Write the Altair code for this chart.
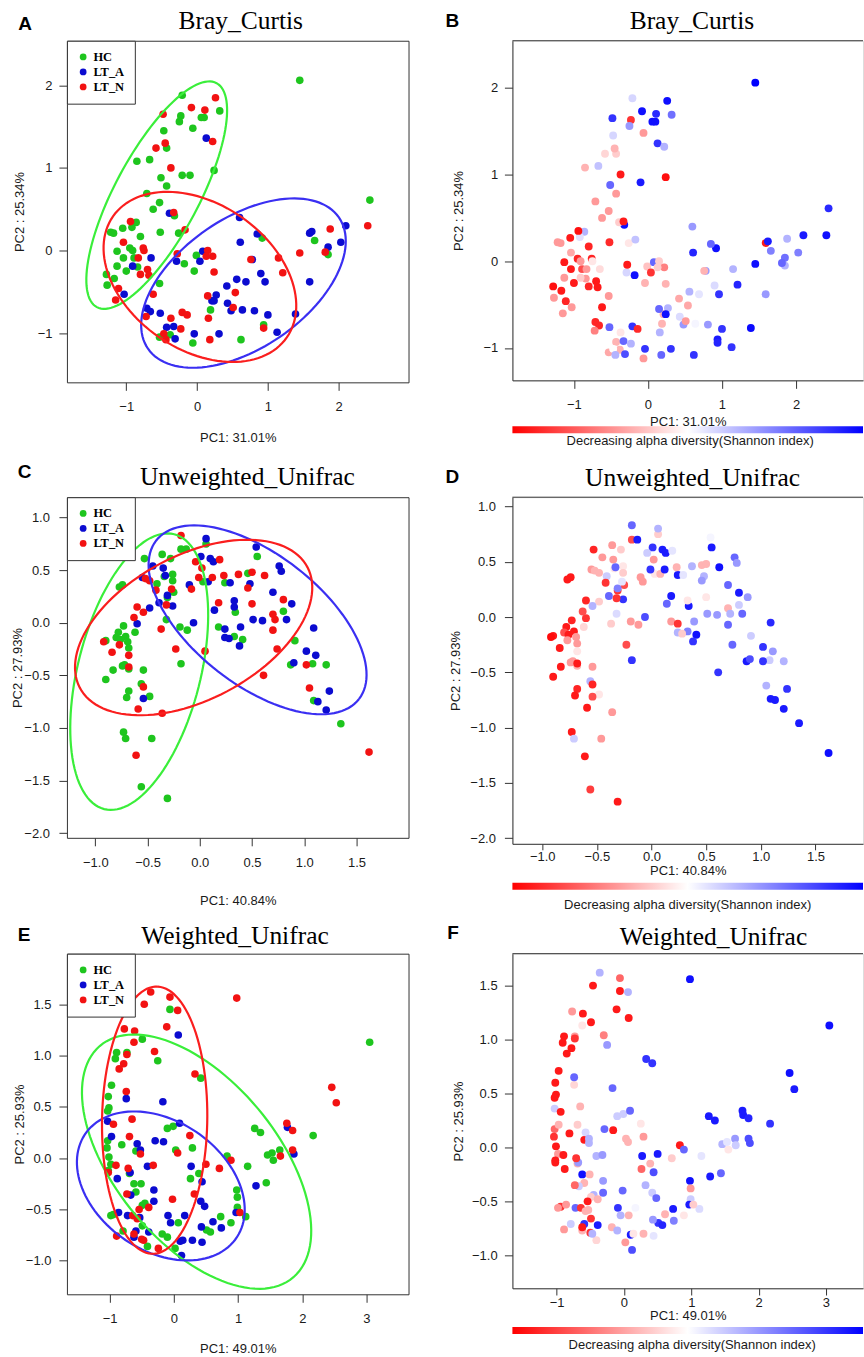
import altair as alt
import numpy as np
import pandas as pd

# ---------------- data (PC1, PC2, relative decrease of Shannon index 0=high .. 1=low) ----------------
bc_hc = [(1.45, 2.06, 1.0), (-0.21, 1.88, 0.58), (-0.23, 1.63, 0.1), (-0.25, 1.56, 0.7), (0.06, 1.61, 0.97),
         (0.10, 1.61, 0.97), (0.32, 1.69, 0.78), (-0.06, 1.48, 0.3), (-0.47, 1.45, 0.58), (-0.43, 1.24, 0.4),
         (-0.85, 1.08, 0.35), (-0.67, 1.10, 0.62), (-0.21, 0.91, 0.5), (-0.10, 0.91, 0.95), (0.24, 0.97, 0.03),
         (-0.51, 0.88, 0.8), (-0.43, 0.78, 0.3), (-0.71, 0.69, 0.3), (-0.53, 0.58, 0.3), (-0.62, 0.50, 0.3),
         (-0.32, 0.42, 0.97), (-0.86, 0.34, 0.65), (-0.92, 0.28, 0.56), (-1.05, 0.27, 0.05), (-0.52, 0.22, 0.08),
         (-0.26, 0.21, 0.45), (-1.22, 0.22, 0.3), (-1.18, 0.21, 0.3), (-0.80, 0.17, 0.07), (-1.13, -0.01, 0.05),
         (-0.95, 0.03, 0.07), (-0.91, 0.0, 0.3), (-1.04, -0.09, 0.05), (-0.89, -0.09, 0.15), (-1.13, -0.19, 0.3),
         (-1.00, -0.25, 0.05), (-0.84, -0.20, 0.3), (-1.28, -0.29, 0.03), (-1.27, -0.42, 0.3), (-1.17, -0.34, 0.05),
         (-0.53, -0.40, 0.3), (-0.01, -0.06, 0.38), (-0.18, -0.16, 0.97), (-0.04, -0.25, 0.35), (0.92, 0.15, 0.97),
         (1.66, 0.12, 0.75), (1.85, -0.05, 0.65), (2.44, 0.61, 0.92), (0.19, -0.72, 0.35), (0.94, -0.90, 0.95),
         (0.62, -1.08, 0.9), (-0.06, -1.12, 0.3), (-0.53, -1.05, 0.33), (-0.38, -1.02, 0.35)]
bc_lta = [(0.13, 1.36, 0.9), (-0.39, 0.45, 0.4), (0.60, 0.40, 0.7), (0.85, 0.20, 0.8), (0.61, 0.10, 0.93),
          (1.59, 0.21, 0.05), (1.62, 0.23, 0.95), (2.10, 0.30, 0.95), (2.03, 0.10, 0.75), (1.85, 0.04, 0.78),
          (-0.65, -0.09, 0.43), (-0.91, -0.19, 0.4), (-0.29, -0.13, 0.58), (0.08, -0.01, 0.8), (0.04, -0.13, 0.1),
          (0.78, -0.11, 0.7), (0.90, -0.28, 0.57), (0.96, -0.38, 0.9), (0.56, -0.35, 0.65), (0.69, -0.38, 0.55),
          (1.59, -0.38, 0.7), (0.42, -0.43, 0.33), (0.27, -0.54, 0.65), (0.21, -0.61, 0.35), (0.24, -0.61, 0.97),
          (0.43, -0.64, 0.57), (0.48, -0.73, 0.7), (0.64, -0.72, 0.52), (0.81, -0.73, 0.7), (1.00, -0.78, 0.9),
          (1.39, -0.77, 0.98), (1.13, -0.99, 0.9), (0.31, -1.01, 0.9), (-0.04, -1.01, 0.9), (-0.71, -0.70, 0.07),
          (-0.66, -0.74, 0.07), (-0.52, -0.76, 0.8), (-1.03, -0.53, 0.3), (-0.43, -0.93, 0.35), (-0.33, -0.92, 0.8),
          (-0.31, -1.07, 0.85)]
bc_ltn = [(0.26, 1.85, 0.97), (-0.08, 1.73, 0.97), (0.11, 1.70, 0.92), (-0.48, 1.65, 0.9), (0.22, 1.32, 0.65),
          (-0.45, 1.30, 0.35), (-0.58, 1.24, 0.42), (-0.37, 1.00, 0.05), (-0.33, 0.46, 0.05), (-0.17, 0.25, 0.62),
          (-0.94, 0.35, 0.03), (-1.04, 0.10, 0.33), (-0.76, 0.03, 0.07), (-0.75, 0.0, 0.45), (-0.83, -0.09, 0.3),
          (-0.70, -0.23, 0.05), (-0.80, -0.29, 0.07), (-0.68, -0.30, 0.05), (-1.11, -0.46, 0.07), (-0.62, -0.53, 0.05),
          (-1.15, -0.60, 0.3), (-0.72, -0.80, 0.25), (-0.37, -0.82, 0.45), (-0.21, -0.75, 0.9), (-0.14, -0.78, 0.08),
          (-0.23, -0.95, 0.65), (-0.47, -1.01, 0.5), (-0.44, -1.08, 0.65), (0.16, -0.82, 0.65), (0.18, -1.08, 0.8),
          (0.15, -0.55, 0.8), (0.54, -0.51, 0.33), (0.51, -0.69, 0.3), (0.24, -0.26, 0.35), (0.15, 0.0, 0.4),
          (0.22, -0.07, 0.25), (0.13, -0.07, 0.4), (0.76, -0.11, 0.35), (1.15, -0.09, 0.65), (1.21, -0.27, 0.93),
          (1.45, -0.03, 0.97), (1.81, -0.02, 0.8), (1.88, 0.26, 0.65), (2.41, 0.30, 0.97), (0.94, -0.94, 0.93),
          (-0.28, -0.04, 0.05)]

uu_hc = [(-0.36, 0.65, 0.3), (-0.53, 0.61, 0.07), (-0.77, 0.34, 0.05), (-0.74, 0.36, 0.05), (-0.28, 0.61, 0.4),
         (-0.26, 0.46, 0.45), (-0.26, 0.40, 0.4), (-0.34, 0.44, 0.45), (-0.41, 0.37, 0.6), (-0.18, 0.70, 0.15),
         (-0.13, 0.70, 0.95), (-0.25, 0.29, 0.15), (-0.31, 0.24, 0.1), (-0.32, 0.03, 0.57), (-0.19, -0.04, 0.3),
         (-0.12, -0.07, 0.3), (-0.18, -0.39, 0.9), (0.03, 0.39, 0.45), (0.06, 0.75, 0.4), (0.24, 0.38, 0.95),
         (0.34, 0.10, 0.95), (0.46, 0.47, 0.35), (0.55, 0.63, 0.95), (0.18, -0.04, 0.3), (0.33, -0.13, 0.75),
         (0.41, -0.16, 0.97), (0.80, 0.11, 0.6), (0.91, -0.17, 0.6), (0.87, -0.40, 0.95), (1.08, -0.39, 0.6),
         (1.21, -0.40, 0.65), (1.09, -0.74, 0.95), (1.35, -0.96, 0.95), (-0.62, -0.09, 0.42), (-0.73, -0.03, 0.07),
         (-0.78, -0.09, 0.05), (-0.80, -0.14, 0.15), (-0.76, -0.16, 0.05), (-0.71, -0.13, 0.05), (-0.69, -0.18, 0.3),
         (-0.68, -0.24, 0.3), (-0.90, -0.17, 0.05), (-0.74, -0.41, 0.3), (-0.72, -0.40, 0.3), (-0.68, -0.44, 0.35),
         (-0.83, -0.45, 0.05), (-0.90, -0.54, 0.05), (-0.54, -0.45, 0.3), (-0.56, -0.58, 0.65), (-0.48, -0.70, 0.45),
         (-0.68, -0.65, 0.07), (-0.70, -0.71, 0.05), (-0.73, -1.04, 0.05), (-0.71, -1.10, 0.6), (-0.46, -1.10, 0.3),
         (-0.56, -1.56, 0.12), (-0.31, -1.67, 0.05)]
uu_lta = [(0.06, 0.80, 0.65), (-0.45, 0.54, 0.3), (-0.35, 0.52, 0.3), (-0.33, 0.45, 0.8), (-0.55, 0.43, 0.3),
          (0.01, 0.63, 0.9), (0.10, 0.61, 0.95), (0.13, 0.58, 0.95), (-0.10, 0.36, 0.3), (0.08, 0.39, 0.35),
          (0.54, 0.72, 0.52), (0.76, 0.54, 0.8), (0.78, 0.49, 0.7), (0.48, 0.37, 0.65), (0.29, 0.38, 0.55),
          (0.33, 0.21, 0.5), (0.33, 0.15, 0.45), (0.14, 0.12, 0.8), (0.70, 0.29, 0.8), (0.88, 0.18, 0.7),
          (0.83, 0.03, 0.8), (0.51, 0.03, 0.7), (0.60, 0.02, 0.7), (0.24, -0.06, 0.1), (0.24, -0.14, 0.65),
          (0.28, -0.15, 0.4), (0.39, -0.04, 0.7), (0.38, -0.22, 0.9), (-0.06, 0.0, 0.85), (-0.31, 0.26, 0.75),
          (-0.26, 0.16, 0.9), (-0.39, 0.19, 0.8), (-0.48, 0.14, 0.4), (-0.60, -0.01, 0.1), (-0.54, -0.72, 0.15),
          (0.90, -0.38, 0.85), (1.02, -0.27, 0.9), (1.09, -0.05, 0.92), (1.11, -0.31, 0.7), (1.13, -0.75, 0.95),
          (1.24, -0.65, 0.9), (1.21, -0.83, 0.95)]
uu_ltn = [(-0.18, 0.83, 0.8), (-0.04, 0.58, 0.6), (0.02, 0.52, 0.3), (0.19, 0.60, 0.55), (0.12, 0.43, 0.95),
          (-0.01, 0.43, 0.9), (-0.08, 0.32, 0.3), (0.23, 0.45, 0.35), (0.37, 0.46, 0.65), (0.46, 0.33, 0.7),
          (0.50, 0.48, 0.35), (0.62, 0.45, 0.97), (0.18, 0.19, 0.95), (0.50, 0.18, 0.45), (0.80, 0.22, 0.95),
          (0.70, 0.08, 0.35), (0.72, 0.03, 0.65), (0.70, -0.07, 0.8), (0.74, -0.25, 0.8), (0.05, -0.27, 0.5),
          (0.61, -0.50, 0.9), (1.02, -0.40, 0.9), (1.05, -0.62, 0.65), (1.62, -1.23, 0.97), (-0.27, 0.32, 0.55),
          (-0.32, 0.17, 0.1), (-0.42, 0.31, 0.1), (-0.52, 0.42, 0.35), (-0.48, 0.40, 0.35), (-0.60, 0.15, 0.07),
          (-0.54, 0.10, 0.65), (-0.63, 0.05, 0.15), (-0.37, -0.06, 0.4), (-0.23, -0.25, 0.15), (-0.92, -0.18, 0.02),
          (-0.84, -0.28, 0.05), (-0.77, -0.21, 0.3), (-0.68, -0.31, 0.45), (-0.68, -0.42, 0.05), (-0.54, -0.61, 0.07),
          (-0.59, -0.82, 0.05), (-0.36, -0.86, 0.3), (-0.61, -1.26, 0.05)]

wu_hc = [(3.05, 1.13, 0.97), (-0.06, 1.45, 0.05), (-0.49, 1.16, 0.05), (-0.73, 1.03, 0.3), (-0.89, 1.03, 0.05),
         (-0.91, 0.97, 0.05), (-0.25, 0.95, 0.7), (0.42, 0.78, 0.9), (-0.97, 0.71, 0.05), (-1.02, 0.60, 0.05),
         (-1.01, 0.49, 0.05), (-1.03, 0.46, 0.05), (-0.10, 0.29, 0.6), (-0.01, 0.31, 0.6), (-1.03, 0.17, 0.2),
         (-1.04, 0.10, 0.1), (-0.81, 0.13, 0.05), (-0.59, 0.07, 0.05), (0.03, 0.08, 0.35), (0.29, 0.10, 0.3),
         (-1.01, 0.01, 0.05), (-0.98, -0.06, 0.3), (-0.69, -0.15, 0.35), (-0.62, -0.25, 0.97), (-0.51, -0.25, 0.35),
         (-0.59, -0.33, 0.35), (-0.45, -0.44, 0.65), (-0.49, -0.46, 0.4), (0.26, -0.20, 0.2), (0.39, -0.15, 0.35),
         (0.83, 0.02, 0.05), (1.15, -0.08, 0.55), (1.26, 0.29, 0.95), (1.35, 0.25, 0.95), (1.46, 0.03, 0.65),
         (1.53, 0.05, 0.55), (1.55, -0.02, 0.45), (1.65, 0.08, 0.7), (2.17, 0.22, 0.9), (1.44, -0.24, 0.8),
         (0.98, -0.31, 0.97), (0.99, -0.38, 0.3), (0.99, -0.48, 0.6), (1.12, -0.57, 0.57), (0.89, -0.63, 0.45),
         (0.73, -0.57, 0.95), (0.51, -0.70, 0.9), (0.57, -0.72, 0.93), (0.07, -0.63, 0.35), (-0.18, -0.74, 0.35),
         (-0.10, -0.77, 0.65), (0.02, -0.88, 0.3), (-0.41, -0.86, 0.42), (-0.79, -0.71, 0.6), (-0.49, -0.66, 0.1),
         (-0.94, -0.55, 0.1), (-0.98, -0.56, 0.3), (-1.02, -0.12, 0.05)]
wu_lta = [(0.07, 1.20, 0.05), (-0.17, 0.55, 0.8), (-0.74, 0.58, 0.42), (-1.03, 0.36, 0.6), (0.09, 0.34, 0.8),
          (-0.97, 0.21, 0.35), (-0.29, 0.17, 0.8), (-0.16, 0.16, 0.05), (-0.57, 0.14, 0.58), (-0.52, 0.08, 0.65),
          (-0.41, -0.08, 0.65), (-0.68, -0.14, 0.7), (-0.88, -0.20, 0.05), (0.27, -0.08, 0.95), (0.44, -0.23, 0.85),
          (-0.31, -0.31, 0.7), (-0.31, -0.42, 0.8), (-0.67, -0.36, 0.6), (0.42, -0.42, 0.6), (0.48, -0.47, 0.8),
          (-0.09, -0.56, 0.9), (0.17, -0.56, 0.52), (-0.05, -0.63, 0.65), (-0.86, -0.53, 0.3), (-0.72, -0.56, 0.8),
          (-0.53, -0.58, 0.35), (-0.59, -0.71, 0.9), (-0.39, -0.72, 0.95), (-0.62, -0.77, 0.35), (0.10, -0.81, 0.95),
          (0.14, -0.80, 0.45), (0.29, -0.80, 0.35), (0.44, -0.82, 0.55), (0.43, -0.67, 0.7), (0.61, -0.62, 0.35),
          (0.74, -0.68, 0.75), (0.97, -0.53, 0.95), (0.12, -0.95, 0.85), (1.28, -0.27, 0.95), (1.77, 0.30, 0.95),
          (1.87, 0.04, 0.85)]
wu_ltn = [(0.98, 1.56, 0.97), (-0.36, 1.62, 0.65), (-0.06, 1.57, 0.2), (-0.46, 1.50, 0.05), (0.06, 1.44, 0.65),
          (-0.11, 1.28, 0.05), (-0.77, 1.26, 0.3), (-0.61, 1.24, 0.05), (-0.62, 1.13, 0.45), (-0.30, 1.04, 0.25),
          (-0.73, 1.01, 0.1), (-0.78, 0.92, 0.05), (-0.85, 0.87, 0.05), (0.33, 0.82, 0.9), (-0.74, 0.65, 0.8),
          (2.46, 0.69, 0.97), (2.53, 0.54, 0.95), (-0.65, 0.38, 0.35), (-0.94, 0.33, 0.05), (-0.69, 0.21, 0.4),
          (-0.52, 0.04, 0.65), (0.06, 0.05, 0.35), (0.25, 0.22, 0.45), (-0.32, -0.07, 0.7), (-0.90, -0.07, 0.05),
          (-0.71, -0.10, 0.1), (-1.02, -0.14, 0.05), (0.50, -0.06, 0.95), (0.71, -0.10, 0.4), (0.89, -0.02, 0.8),
          (1.03, -0.53, 0.4), (1.76, 0.34, 0.95), (1.85, 0.27, 0.93), (1.85, 0.08, 0.85), (1.66, 0.02, 0.6),
          (0.32, -0.35, 0.65), (-0.02, -0.40, 0.8), (-0.73, -0.35, 0.2), (-0.39, -0.48, 0.35), (-0.54, -0.50, 0.05),
          (-0.64, -0.56, 0.1), (-0.57, -0.59, 0.35), (-0.62, -0.74, 0.05), (-0.50, -0.79, 0.1), (-0.47, -0.80, 0.65),
          (-0.89, -0.76, 0.3), (-0.24, -0.88, 0.5)]

# confidence ellipses: centre x, centre y, semi-major, semi-minor, rotation (deg)
bc_ellipses = {"HC": (-0.57, 0.67, 1.60, 0.57, 57.0), "LT_A": (0.655, -0.395, 1.571, 0.819, 27.4),
               "LT_N": (0.04, -0.32, 1.44, 0.916, -25.1)}
uu_ellipses = {"HC": (-0.58, -0.465, 1.349, 0.587, 75.6), "LT_A": (0.553, 0.028, 1.229, 0.62, -37.75),
               "LT_N": (-0.059, -0.045, 1.231, 0.686, 27.7)}
wu_ellipses = {"HC": (0.355, -0.034, 1.955, 0.949, -27.8), "LT_A": (-0.202, -0.271, 1.334, 0.674, -13.55),
               "LT_N": (-0.298, 0.37, 1.303, 0.819, 87.8)}

GROUPS = ["HC", "LT_A", "LT_N"]
PT_COLORS = ["#1ec51e", "#0b0bd0", "#f21212"]
ELL_COLORS = ["#3aee3a", "#3a2ff2", "#fa1e1e"]
FRAME = "#333333"
TXT = "#1a1a1a"


def to_df(hc, lta, ltn):
    rows = []
    for g, pts in zip(GROUPS, (hc, lta, ltn)):
        for x, y, s in pts:
            rows.append({"x": x, "y": y, "group": g, "decrease": s})
    return pd.DataFrame(rows)


def ellipse_df(params):
    t = np.linspace(0, 2 * np.pi, 121)
    rows = []
    for g, (cx, cy, a, b, th) in params.items():
        r = np.deg2rad(th)
        xs = cx + a * np.cos(r) * np.cos(t) - b * np.sin(r) * np.sin(t)
        ys = cy + a * np.sin(r) * np.cos(t) + b * np.cos(r) * np.sin(t)
        for i, (x, y) in enumerate(zip(xs, ys)):
            rows.append({"group": g, "i": i, "x": float(x), "y": float(y)})
    return pd.DataFrame(rows)


AX = dict(grid=False, tickColor=FRAME, tickWidth=1, domainColor=FRAME, domainWidth=1,
          labelFont="Liberation Sans", labelFontSize=13, labelColor=TXT, labelFlush=False,
          labelOverlap=False, titleFont="Liberation Sans", titleFontSize=13, titleFontWeight="normal",
          titleColor=TXT, titleBaseline="middle", titleAlign="center")


def encodings(p, framed):
    xa = alt.Axis(values=p["xt"], format=p["fx"], domain=not framed, tickSize=p["xtick"],
                  labelPadding=p["xpad"], title=p["xtitle"], titleX=p["w"] / 2, titleY=p["xty"], **AX)
    ya = alt.Axis(values=p["yt"], format=p["fy"], domain=not framed, tickSize=8,
                  labelPadding=p["ypad"], title=p["ytitle"], titleX=p["ytx"], titleY=p["h"] / 2,
                  titleAngle=270, **AX)
    x = alt.X("x:Q", scale=alt.Scale(domain=p["xd"], nice=False, zero=False), axis=xa)
    y = alt.Y("y:Q", scale=alt.Scale(domain=p["yd"], nice=False, zero=False), axis=ya)
    return x, y


def annotations(p):
    letter = alt.Chart(pd.DataFrame({"t": [p["letter"]]})).mark_text(
        font="Liberation Sans", fontWeight="bold", fontSize=19, align="left", baseline="alphabetic",
        color="black").encode(text="t:N", x=alt.value(p["lx"]), y=alt.value(p["ly"]))
    title = alt.Chart(pd.DataFrame({"t": [p["title"]]})).mark_text(
        font="Liberation Serif", fontSize=25.5, align="center", baseline="alphabetic",
        color="black").encode(text="t:N", x=alt.value(p["tx"]), y=alt.value(p["ty"]))
    return [letter, title]


def group_panel(df, ell, p, anchor=False):
    x, y = encodings(p, True)
    pts = alt.Chart(df).mark_circle(size=58, opacity=1).encode(
        x=x, y=y,
        color=alt.Color("group:N", scale=alt.Scale(domain=GROUPS, range=PT_COLORS),
                        legend=alt.Legend(title=None, orient="top-left", offset=0, padding=10,
                                          strokeColor=FRAME, fillColor="white", symbolType="circle",
                                          symbolSize=46, symbolStrokeWidth=0, labelFont="Liberation Serif",
                                          labelFontWeight="bold", labelFontSize=12.5, labelColor="black",
                                          labelOffset=4, rowPadding=2)))
    lines = alt.Chart(ell).mark_line(strokeWidth=2.2).encode(
        x="x:Q", y="y:Q", detail="group:N", order="i:Q",
        stroke=alt.Stroke("group:N", scale=alt.Scale(domain=GROUPS, range=ELL_COLORS), legend=None))
    layers = [pts, lines] + annotations(p)
    if anchor:
        layers.append(alt.Chart(pd.DataFrame({"a": [0]})).mark_rule(opacity=0).encode(
            x=alt.value(-66), x2=alt.value(-65), y=alt.value(-39)))
    return alt.layer(*layers).properties(width=p["w"], height=p["h"],
                                         view=alt.ViewBackground(stroke=FRAME, strokeWidth=1))


def shade_panel(df, p):
    x, y = encodings(p, False)
    pts = alt.Chart(df).mark_circle(size=62, opacity=1).encode(
        x=x, y=y,
        color=alt.Color("decrease:Q",
                        scale=alt.Scale(domain=[0, 0.5, 1], range=["#ff0000", "#ffffff", "#0000ff"],
                                        interpolate="rgb"),
                        legend=alt.Legend(title=None, orient="none", legendX=0, legendY=p["gy"],
                                          direction="horizontal", gradientLength=p["w"],
                                          gradientThickness=7, gradientStrokeWidth=0, padding=0,
                                          values=[0.5], labelOpacity=0, labelFontSize=1, labelOffset=0)))
    top = alt.Chart(pd.DataFrame({"a": [0]})).mark_rule(color=FRAME, strokeWidth=1).encode(
        x=alt.value(0), x2=alt.value(p["w"]), y=alt.value(0))
    cap = alt.Chart(pd.DataFrame({"t": ["Decreasing alpha diversity(Shannon index)"]})).mark_text(
        font="Liberation Sans", fontSize=13, color=TXT, align="center", baseline="middle").encode(
        text="t:N", x=alt.value(p["cx"]), y=alt.value(p["cy"]))
    return alt.layer(pts, top, cap, *annotations(p)).properties(width=p["w"], height=p["h"])


LW, RW = 342, 351
pA = dict(w=LW, h=342, xd=[-1.838, 2.986], yd=[-1.597, 2.540], xt=[-1, 0, 1, 2], yt=[-1, 0, 1, 2],
          fx="d", fy="d", xtick=8, xpad=10, ypad=7, xtitle="PC1: 31.01%", xty=55.7,
          ytitle="PC2 : 25.34%", ytx=-47.7, letter="A", lx=-48.7, ly=-10.7, title="Bray_Curtis",
          tx=174, ty=-11.7)
pB = dict(w=RW, h=340, xd=[-1.831, 2.905], yd=[-1.373, 2.543], xt=[-1, 0, 1, 2], yt=[-1, 0, 1, 2],
          fx="d", fy="d", xtick=8, xpad=10.4, ypad=6.7, xtitle="PC1: 31.01%", xty=41.4,
          ytitle="PC2 : 25.34%", ytx=-53.7, letter="B", lx=-67, ly=-13.3, title="Bray_Curtis",
          tx=179.7, ty=-11.7, gy=386, cx=178, cy=401)
pC = dict(w=LW, h=341, xd=[-1.272, 1.998], yd=[-2.045, 1.194],
          xt=[-1.0, -0.5, 0.0, 0.5, 1.0, 1.5], yt=[-2.0, -1.5, -1.0, -0.5, 0.0, 0.5, 1.0],
          fx=".1f", fy=".1f", xtick=8, xpad=10.7, ypad=9.5, xtitle="PC1: 40.84%", xty=63,
          ytitle="PC2 : 27.93%", ytx=-49.3, letter="C", lx=-49.3, ly=-19.3, title="Unweighted_Unifrac",
          tx=180.7, ty=-12.7)
pD = dict(w=RW, h=347, xd=[-1.273, 1.935], yd=[-2.051, 1.084],
          xt=[-1.0, -0.5, 0.0, 0.5, 1.0, 1.5], yt=[-2.0, -1.5, -1.0, -0.5, 0.0, 0.5, 1.0],
          fx=".1f", fy=".1f", xtick=6, xpad=1, ypad=9, xtitle="PC1: 40.84%", xty=27,
          ytitle="PC2 : 27.93%", ytx=-57, letter="D", lx=-67, ly=-14.3, title="Unweighted_Unifrac",
          tx=180.3, ty=-11.7, gy=386, cx=175.5, cy=408)
pE = dict(w=LW, h=341, xd=[-1.664, 3.655], yd=[-1.327, 1.993], xt=[-1, 0, 1, 2, 3],
          yt=[-1.0, -0.5, 0.0, 0.5, 1.0, 1.5], fx="d", fy=".1f", xtick=8, xpad=10.7, ypad=8,
          xtitle="PC1: 49.01%", xty=54.5, ytitle="PC2 : 25.93%", ytx=-47.7, letter="E", lx=-49.3,
          ly=-12.3, title="Weighted_Unifrac", tx=168.3, ty=-9.7)
pF = dict(w=RW, h=335, xd=[-1.657, 3.550], yd=[-1.306, 1.796], xt=[-1, 0, 1, 2, 3],
          yt=[-1.0, -0.5, 0.0, 0.5, 1.0, 1.5], fx="d", fy=".1f", xtick=6.7, xpad=1.1, ypad=7.3,
          xtitle="PC1: 49.01%", xty=27.2, ytitle="PC2 : 25.93%", ytx=-54, letter="F", lx=-65.3,
          ly=-14.7, title="Weighted_Unifrac", tx=201.3, ty=-8.7, gy=373.7, cx=180, cy=392)

bc = to_df(bc_hc, bc_lta, bc_ltn)
uu = to_df(uu_hc, uu_lta, uu_ltn)
wu = to_df(wu_hc, wu_lta, wu_ltn)

A = group_panel(bc, ellipse_df(bc_ellipses), pA, anchor=True)
B = shade_panel(bc, pB)
C = group_panel(uu, ellipse_df(uu_ellipses), pC)
D = shade_panel(uu, pD)
E = group_panel(wu, ellipse_df(wu_ellipses), pE)
F = shade_panel(wu, pF)

chart = alt.concat(A, B, C, D, E, F, columns=2, spacing={"row": 110, "column": 95},
                   bounds="flush", align="all").resolve_scale(
    color="independent", stroke="independent").properties(padding=0).configure_view(
    stroke="transparent").configure(font="Liberation Sans", background="white")

chart.save("out.html", embed_options={"renderer": "svg", "actions": False})
